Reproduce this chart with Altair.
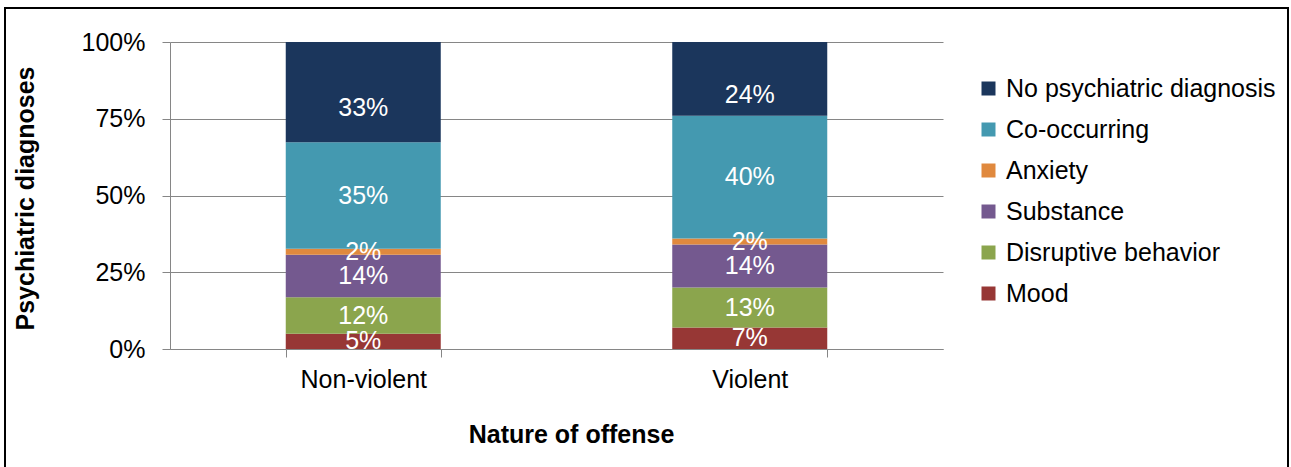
import altair as alt
import pandas as pd

# Share of each psychiatric diagnosis group by nature of offense (percent)
offenses = ["Non-violent", "Violent"]
diagnoses = ["Mood", "Disruptive behavior", "Substance", "Anxiety",
             "Co-occurring", "No psychiatric diagnosis"]
non_violent_pct = [5, 12, 14, 2, 35, 33]
violent_pct = [7, 13, 14, 2, 40, 24]
palette = ["#973735", "#8BA54D", "#74598F", "#E0893E", "#4499B0", "#1B365C"]

rows = []
for offense, values in zip(offenses, [non_violent_pct, violent_pct]):
    for i, (diag, v) in enumerate(zip(diagnoses, values)):
        rows.append({"offense": offense, "diagnosis": diag, "order": i, "value": v})
df = pd.DataFrame(rows)

FONT = "Liberation Sans"
GRID = "#868686"

x_enc = alt.X(
    "offense:N",
    sort=offenses,
    scale=alt.Scale(paddingInner=0.6, paddingOuter=0.3),
    axis=alt.Axis(
        title="Nature of offense",
        labelAngle=0,
        labelFontSize=25,
        labelPadding=10,
        tickBand="extent",
        tickSize=8,
        tickColor=GRID,
        domainColor=GRID,
        titleFontSize=25,
        titleFontWeight="bold",
        titleX=401,
        titleY=93,
        titleBaseline="alphabetic",
        grid=False,
    ),
)

y_axis = alt.Axis(
    title="Psychiatric diagnoses",
    values=[0, 0.25, 0.5, 0.75, 1],
    format=".0%",
    labelFontSize=25,
    labelPadding=17,
    tickSize=8,
    tickColor=GRID,
    domainColor=GRID,
    gridColor=GRID,
    titleFontSize=25,
    titleFontWeight="bold",
    titleX=-137,
    titleY=156,
    titleBaseline="alphabetic",
)
y_scale = alt.Scale(domain=[0, 1])

legend_order = list(reversed(diagnoses))
color_enc = alt.Color(
    "diagnosis:N",
    scale=alt.Scale(domain=legend_order, range=list(reversed(palette))),
    legend=alt.Legend(
        title=None,
        orient="none",
        legendX=806,
        legendY=34,
        symbolType="square",
        symbolSize=196,
        symbolStrokeWidth=0,
        symbolOpacity=1,
        labelFontSize=25,
        labelOffset=5,
        labelLimit=400,
        rowPadding=15,
        labelColor="#000000",
    ),
)

bars = alt.Chart(df).mark_bar(size=155).encode(
    x=x_enc,
    y=alt.Y("value:Q", stack="normalize", scale=y_scale, axis=y_axis),
    color=color_enc,
    order=alt.Order("order:Q", sort="ascending"),
)

top_index = len(diagnoses) - 1
label_base = (
    alt.Chart(df)
    .transform_joinaggregate(total="sum(value)", groupby=["offense"])
    .transform_window(cum="sum(value)", sort=[alt.SortField("order")], groupby=["offense"])
    .transform_calculate(
        mid="(datum.cum - datum.value / 2) / datum.total",
        label="datum.value + '%'",
    )
    .encode(
        x=alt.X("offense:N", sort=offenses),
        y=alt.Y("mid:Q", scale=y_scale, axis=y_axis),
        text="label:N",
    )
)
text_style = dict(color="white", fontSize=25, font=FONT, baseline="middle", clip=True)
labels_lower = label_base.transform_filter(f"datum.order < {top_index}").mark_text(**text_style)
labels_top = label_base.transform_filter(f"datum.order == {top_index}").mark_text(dy=16, **text_style)

# Black frame around the whole figure
frame = alt.Chart(pd.DataFrame({"f": [0]})).mark_rect(
    fill=None, stroke="black", strokeWidth=2
).encode(
    x=alt.value(-165), x2=alt.value(1118), y=alt.value(-34), y2=alt.value(440)
)

chart = (
    alt.layer(bars, labels_lower, labels_top, frame)
    .properties(
        width=773,
        height=307,
        autosize=alt.AutoSizeParams(type="none"),
        padding={"left": 170, "top": 42, "right": 348, "bottom": 118},
    )
    .configure(font=FONT)
    .configure_view(stroke=None)
    .configure_axis(labelColor="#000000", titleColor="#000000", labelFont=FONT, titleFont=FONT)
    .configure_legend(labelFont=FONT)
)

chart.save("out.html", embed_options={"renderer": "svg", "actions": False})
